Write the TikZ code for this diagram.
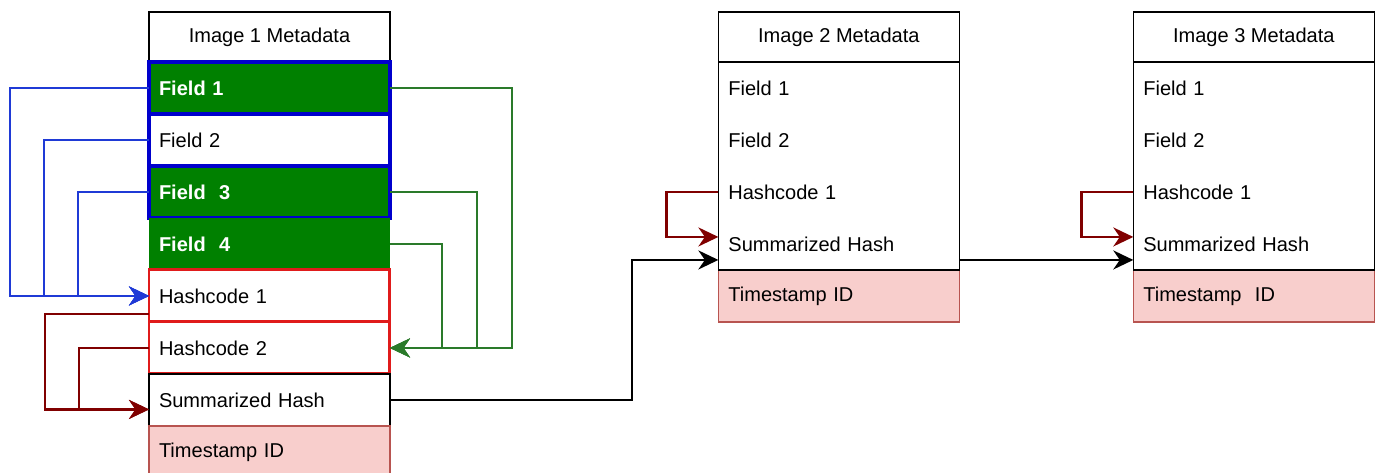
\documentclass[tikz,border=0pt]{standalone}
\usepackage{fontspec}
\setmainfont{Liberation Sans}
\usepackage{xcolor}
\usetikzlibrary{positioning, arrows.meta}

\definecolor{fieldgreen}{HTML}{008000}
\definecolor{linkgreen}{HTML}{2A7A2A}
\definecolor{boxblue}{HTML}{0000CC}
\definecolor{linkblue}{HTML}{1F3AD6}
\definecolor{boxred}{HTML}{E01B1B}
\definecolor{linkred}{HTML}{800000}
\definecolor{stampfill}{HTML}{F8CECC}
\definecolor{stampline}{HTML}{B85450}

\begin{document}
\begin{tikzpicture}[
        x=0.02cm, y=-0.02cm,
        every node/.style={font=\fontsize{11.4}{13.7}\selectfont, outer sep=0pt},
        hdr/.style={draw, line width=0.7pt, minimum width=4.82cm, minimum height=1cm, inner sep=0pt},
        cell/.style={minimum width=4.82cm, minimum height=1.04cm, text width=4.42cm, inner xsep=0.2cm, inner ysep=0pt, align=left},
        greencell/.style={cell, fill=fieldgreen, text=white, font=\fontsize{11.4}{13.7}\selectfont\bfseries},
        bluebox/.style={draw=boxblue, line width=2.4pt},
        redbox/.style={cell, draw=boxred, line width=1.7pt},
        plaincell/.style={cell, draw, line width=0.7pt},
        stamp/.style={cell, fill=stampfill, draw=stampline, line width=0.7pt},
        link/.style={line width=1.4pt, -{Stealth[length=0.4cm, width=0.38cm, inset=0.13cm]}},
        node distance=0pt
    ]
    \useasboundingbox (0,0) rectangle (1379,473);

    % Image 1 table
    \node[hdr, anchor=north west] (i1hdr) at (149,12) {Image 1 Metadata};
    \node[greencell, bluebox, below=of i1hdr] (i1f1) {Field 1};
    \node[cell, bluebox, below=of i1f1] (i1f2) {Field 2};
    \node[greencell, bluebox, below=of i1f2] (i1f3) {Field\ \ 3};
    \node[greencell, below=of i1f3] (i1f4) {Field\ \ 4};
    \node[redbox, below=of i1f4] (i1h1) {Hashcode 1};
    \node[redbox, below=of i1h1] (i1h2) {Hashcode 2};
    \node[plaincell, below=of i1h2] (i1sh) {Summarized Hash};
    \node[stamp, below=of i1sh] (i1ts) {Timestamp ID};

    % Image 2 table
    \node[hdr, right=6.57cm of i1hdr] (i2hdr) {Image 2 Metadata};
    \node[cell, below=of i2hdr] (i2f1) {Field 1};
    \node[cell, below=of i2f1] (i2f2) {Field 2};
    \node[cell, below=of i2f2] (i2h1) {Hashcode 1};
    \node[cell, below=of i2h1] (i2sh) {Summarized Hash};
    \node[stamp, below=of i2sh] (i2ts) {Timestamp ID};
    \draw[line width=0.7pt] (i2f1.north west) rectangle (i2sh.south east);

    % Image 3 table
    \node[hdr, right=3.48cm of i2hdr] (i3hdr) {Image 3 Metadata};
    \node[cell, below=of i3hdr] (i3f1) {Field 1};
    \node[cell, below=of i3f1] (i3f2) {Field 2};
    \node[cell, below=of i3f2] (i3h1) {Hashcode 1};
    \node[cell, below=of i3h1] (i3sh) {Summarized Hash};
    \node[stamp, below=of i3sh] (i3ts) {Timestamp\ \ ID};
    \draw[line width=0.7pt] (i3f1.north west) rectangle (i3sh.south east);

    % fields into hashcode 1
    \draw[link, linkblue] (i1f1.west) -- ++(-2.78cm,0) |- (i1h1.west);
    \draw[link, linkblue] (i1f2.west) -- ++(-2.1cm,0) |- (i1h1.west);
    \draw[link, linkblue] (i1f3.west) -- ++(-1.42cm,0) |- (i1h1.west);

    % fields into hashcode 2
    \draw[link, linkgreen] (i1f1.east) -- ++(2.44cm,0) |- (i1h2.east);
    \draw[link, linkgreen] (i1f3.east) -- ++(1.74cm,0) |- (i1h2.east);
    \draw[link, linkgreen] (i1f4.east) -- ++(1.04cm,0) |- (i1h2.east);

    % hashcodes into summarized hash
    \draw[link, linkred] ([yshift=-0.36cm]i1h1.west) -- ++(-2.08cm,0) |- ([yshift=-0.19cm]i1sh.west);
    \draw[link, linkred] (i1h2.west) -- ++(-1.4cm,0) |- ([yshift=-0.19cm]i1sh.west);
    \draw[link, linkred] (i2h1.west) -- ++(-1.04cm,0) |- ([yshift=0.14cm]i2sh.west);
    \draw[link, linkred] (i3h1.west) -- ++(-1.04cm,0) |- ([yshift=0.14cm]i3sh.west);

    % chain between images
    \draw[link] (i1sh.east) -- ++(4.84cm,0) |- ([yshift=-0.32cm]i2sh.west);
    \draw[link] ([yshift=-0.32cm]i2sh.east) -- ([yshift=-0.32cm]i3sh.west);

\end{tikzpicture}
\end{document}
